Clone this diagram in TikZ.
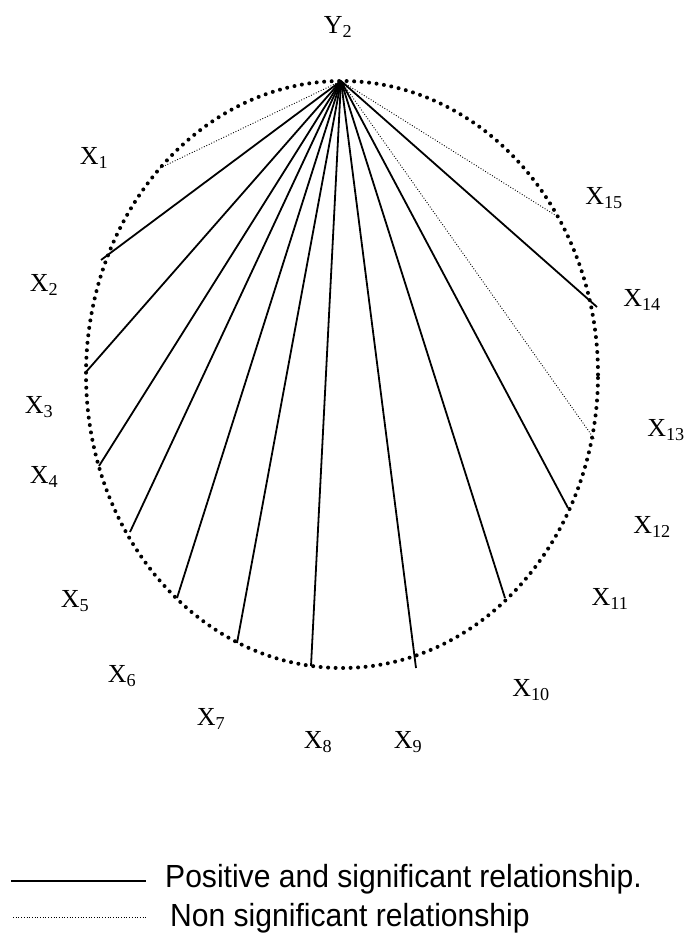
\documentclass[tikz,border=0pt]{standalone}
\usepackage{fontspec}
\setmainfont{Liberation Serif}
\newfontfamily\legendfont{Liberation Sans}
\begin{document}
\begin{tikzpicture}[x=1pt,y=-1pt,
  lab/.style={font=\fontsize{26}{26}\selectfont, inner sep=0pt},
  legtext/.style={font=\legendfont\fontsize{32}{32}\selectfont, inner sep=0pt, anchor=base west},
  sig/.style={line width=1.8pt},
  nonsig/.style={line width=0.9pt, dash pattern=on 0.9pt off 1.8pt},
  rim/.style={line width=4pt, line cap=round, dash pattern=on 0pt off 7.5pt}]
\useasboundingbox (0,0) rectangle (692,933);
\fill[white] (0,0) rectangle (692,933);
% outline
\draw[rim] (342,374.5) ellipse [x radius=256pt, y radius=293.5pt];
% end points
\coordinate (apex) at (341,81);
\coordinate (e1) at (160,168);
\coordinate (e2) at (101,260);
\coordinate (e3) at (86,372);
\coordinate (e4) at (99,466);
\coordinate (e5) at (130,532);
\coordinate (e6) at (177,598);
\coordinate (e7) at (237,643);
\coordinate (e8) at (311,666);
\coordinate (e9) at (416,668);
\coordinate (e10) at (505,598);
\coordinate (e11) at (568,508);
\coordinate (e13) at (595,440);
\coordinate (e14) at (597,307);
\coordinate (e15) at (555,215);
% connectors
\draw[nonsig] (apex) -- (e1);
\foreach \i in {2,...,11} {\draw[sig] (apex) -- (e\i);}
\draw[nonsig] (apex) -- (e13);
\draw[sig] (apex) -- (e14);
\draw[nonsig] (apex) -- (e15);
% labels
\node[lab] (Y2) at (338,27) {Y\textsubscript{2}};
\node[lab] (X1) at (94,158) {X\textsubscript{1}};
\node[lab] (X2) at (44,285) {X\textsubscript{2}};
\node[lab] (X3) at (39,407) {X\textsubscript{3}};
\node[lab] (X4) at (44,477) {X\textsubscript{4}};
\node[lab] (X5) at (75,601) {X\textsubscript{5}};
\node[lab] (X6) at (122,676) {X\textsubscript{6}};
\node[lab] (X7) at (211,719) {X\textsubscript{7}};
\node[lab] (X8) at (318,742) {X\textsubscript{8}};
\node[lab] (X9) at (408,742) {X\textsubscript{9}};
\node[lab] (X10) at (531,690) {X\textsubscript{10}};
\node[lab] (X11) at (610,599) {X\textsubscript{11}};
\node[lab] (X12) at (652,527) {X\textsubscript{12}};
\node[lab] (X13) at (666,430) {X\textsubscript{13}};
\node[lab] (X14) at (642,300) {X\textsubscript{14}};
\node[lab] (X15) at (604,198) {X\textsubscript{15}};
% legend
\coordinate (l1a) at (11,881);
\coordinate (l1b) at (146,881);
\coordinate (l2a) at (13,917);
\coordinate (l2b) at (146,917);
\draw[line width=2.4pt] (l1a) -- (l1b);
\draw[nonsig] (l2a) -- (l2b);
\node[legtext] (t1) at (165,887) {\scalebox{0.94}[1]{Positive and significant relationship.}};
\node[legtext] (t2) at (170,926) {\scalebox{0.94}[1]{Non significant relationship}};
\end{tikzpicture}
\end{document}
